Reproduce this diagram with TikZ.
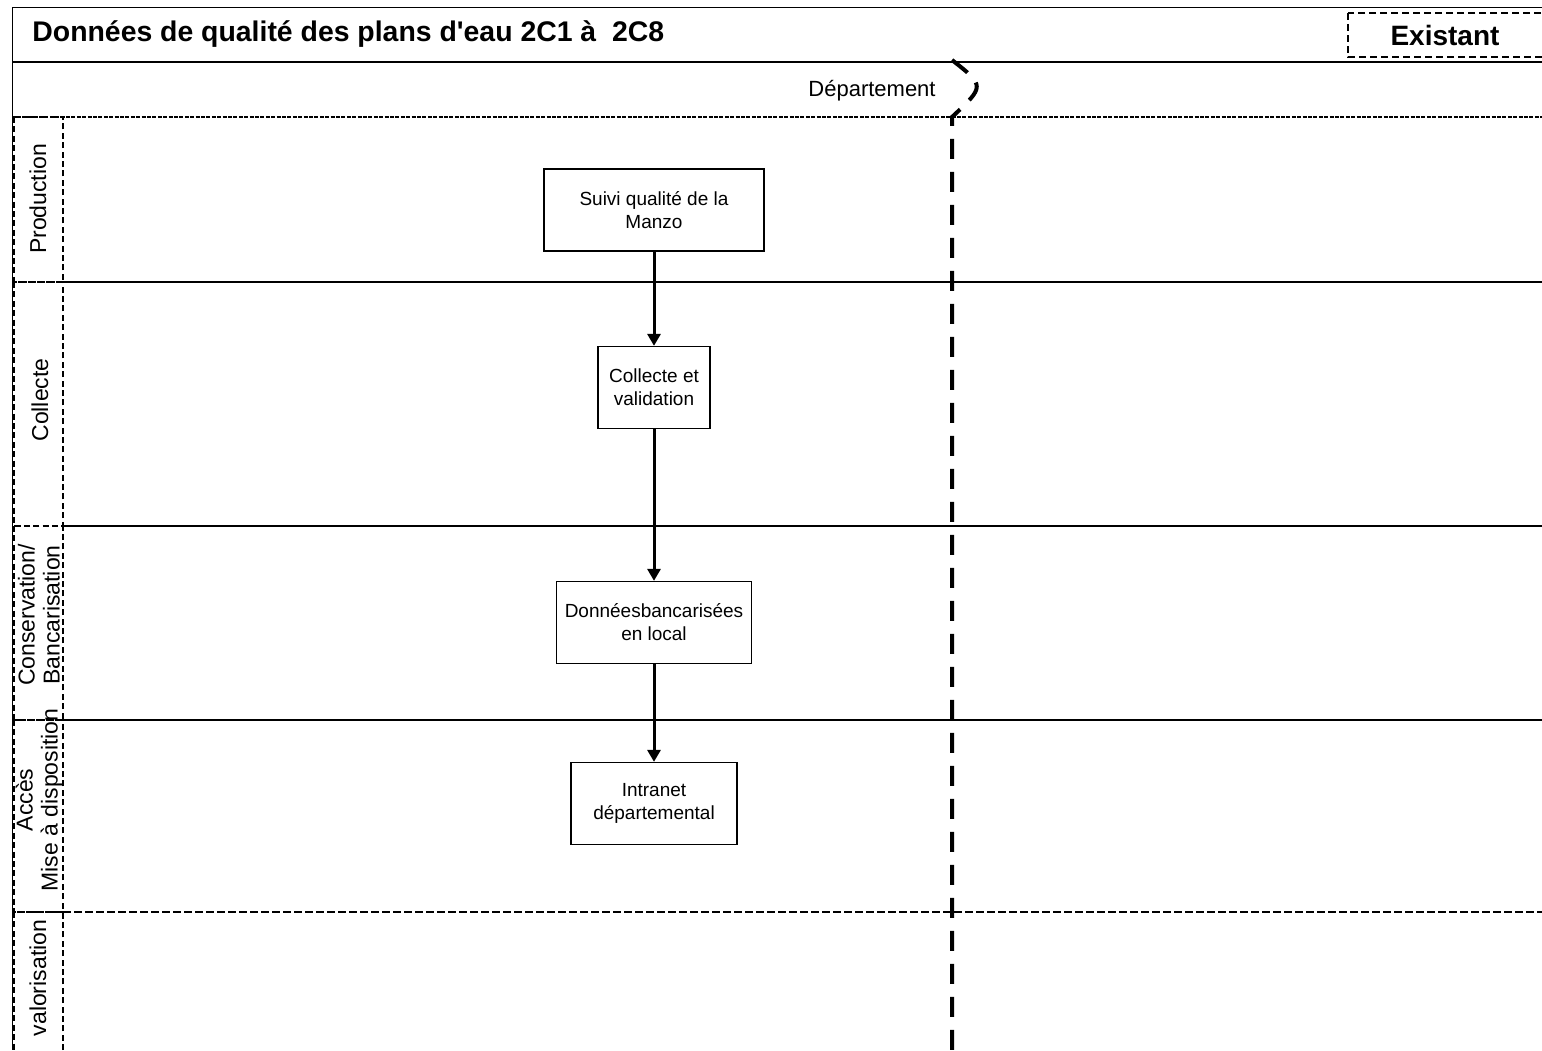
\documentclass[tikz,border=0pt]{standalone}
\usepackage{fontspec}
\setmainfont{Liberation Sans}[Ligatures=TeXOff]
\usetikzlibrary{arrows.meta}

\begin{document}
\begin{tikzpicture}[x=0.5pt, y=-0.5pt, line join=miter,
	boite/.style={draw, line width=0.65pt, align=center, font=\fontsize{9.5}{11.5}\selectfont, minimum height=41pt, inner sep=2pt},
	couloir/.style={rotate=90, align=center, font=\fontsize{11.5}{12.5}\selectfont, inner sep=0pt},
	titre/.style={font=\fontsize{14}{16}\selectfont\bfseries},
	fleche/.style={-{Triangle[width=6.5pt, length=6pt]}, line width=1.5pt},
	cadre/.style={dash pattern=on 3pt off 1.7pt, line width=0.65pt}]
	\useasboundingbox (0,0) rectangle (1542,1050);
	\clip (0,0) rectangle (1542,1050);
	
	% En-tête
	\draw[line width=0.5pt] (12,7) -- (1542,7);
	\draw[line width=0.5pt] (12,7) -- (12,1050);
	\draw[line width=0.65pt] (12,62) -- (1542,62);
	\node[titre, font=\fontsize{14.2}{16}\selectfont\bfseries, anchor=west, inner sep=0pt] (titre) at (32,34) {Données de qualité des plans d'eau 2C1 à \ 2C8};
	\draw[dash pattern=on 3.5pt off 2pt, line width=0.65pt] (1348,13) rectangle (1560,57);
	\node[titre] (existant) at (1445,35) {Existant};
	\node[font=\fontsize{11}{13}\selectfont] (departement) at (872,91) {Département};
	\draw[line width=0.6pt, dash pattern=on 2pt off 0.7pt] (12,117) -- (1542,117);
	\draw[line width=2pt, dash pattern=on 10pt off 6.5pt] (952,60) .. controls (985,86) .. (952,117) -- (952,1050);
	
	% Couloirs
	\draw[line width=0.65pt] (63,282) -- (1542,282);
	\draw[line width=0.65pt] (63,526) -- (1542,526);
	\draw[line width=0.65pt] (63,720) -- (1542,720);
	\draw[line width=1pt, dash pattern=on 4pt off 1.5pt] (63,912) -- (1542,912);
	\draw[cadre] (14,117) rectangle (63,282);
	\draw[cadre] (14,282) rectangle (63,526);
	\draw[cadre] (14,526) rectangle (63,720);
	\draw[cadre] (14,720) rectangle (63,912);
	\draw[cadre] (14,912) rectangle (63,1060);
	\node[couloir] (production) at (38,199) {Production};
	\node[couloir] (collecteCouloir) at (40,400) {Collecte};
	\node[couloir] (conservation) at (39,615) {Conservation/\\Bancarisation};
	\node[couloir] (acces) at (39,800) {Accès\\Mise à disposition};
	\node[couloir] (valorisation) at (38,978) {valorisation};
	
	% Étapes
	\node[boite, minimum width=110pt] (suivi) at (654,210) {Suivi qualité de la\\Manzo};
	\node[boite, minimum width=56pt] (collecte) at (654,387.5) {Collecte et\\validation};
	\node[boite, minimum width=97.5pt] (donnees) at (654,622.5) {Donnéesbancarisées\\en local};
	\node[boite, minimum width=83pt] (intranet) at (654,803.5) {Intranet\\départemental};
	\draw[fleche] (suivi) -- (collecte);
	\draw[fleche] (collecte) -- (donnees);
	\draw[fleche] (donnees) -- (intranet);
\end{tikzpicture}
\end{document}
